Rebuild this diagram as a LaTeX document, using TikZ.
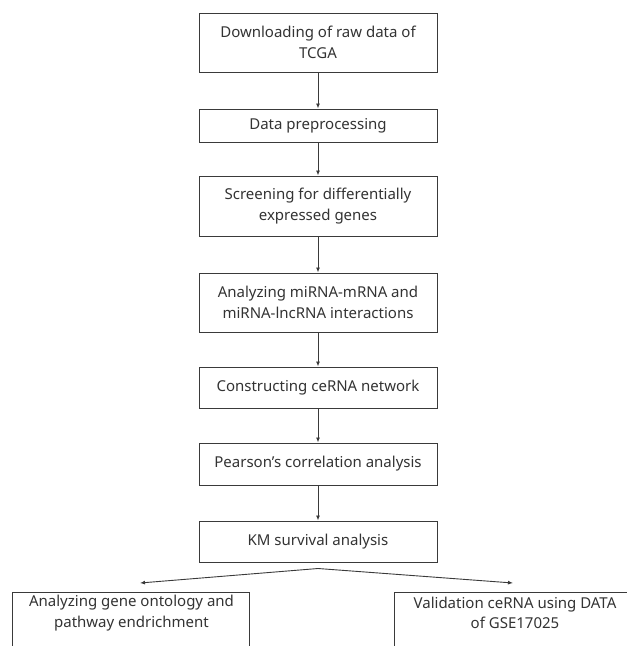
\documentclass[tikz,border=0pt]{standalone}
\usepackage{fontspec}
\setmainfont{Noto Sans}
\usetikzlibrary{arrows.meta}
\definecolor{linec}{HTML}{3A3A3A}
\definecolor{textc}{HTML}{333333}
\tikzset{
  stepbox/.style={draw=linec, line width=1pt, minimum width=238pt, inner sep=0pt,
    align=center, text=textc, font=\fontsize{15}{21}\selectfont},
  plainbox/.style={draw=linec, line width=1pt, minimum width=237pt, minimum height=70pt, inner sep=0pt},
  plaintext/.style={align=center, text=textc, inner sep=0pt, font=\fontsize{15}{20.5}\selectfont},
  arr/.style={draw=linec, line width=0.9pt, -{Latex[length=5pt,width=4pt]}}
}
\begin{document}
\begin{tikzpicture}[x=1pt,y=-1pt]
\useasboundingbox (0,0) rectangle (627,646);
\clip (0,0) rectangle (627,646);
\node[stepbox, minimum height=59pt] (n1) at (318,42.5) {Downloading of raw data of\\TCGA};
\node[stepbox, minimum height=33pt] (n2) at (318,125.5) {Data preprocessing};
\node[stepbox, minimum height=60pt] (n3) at (318,206) {Screening for differentially\\expressed genes};
\node[stepbox, minimum height=59pt] (n4) at (318,302.5) {Analyzing miRNA-mRNA and\\miRNA-lncRNA interactions};
\node[stepbox, minimum height=41pt] (n5) at (318,387.5) {Constructing ceRNA network};
\node[stepbox, minimum height=42pt] (n6) at (318,464) {Pearson's correlation analysis};
\node[stepbox, minimum height=41pt] (n7) at (318,541.5) {KM survival analysis};
\node[plainbox, anchor=north] (gobox) at (130.5,592) {};
\node[plaintext] (gotext) at (131.5,613) {Analyzing gene ontology and\\pathway endrichment};
\node[plainbox, anchor=north] (valbox) at (512.5,592) {};
\node[plaintext] (valtext) at (515,613) {Validation ceRNA using DATA\\of GSE17025};
\draw[arr] (n1) -- (n2);
\draw[arr] (n2) -- (n3);
\draw[arr] (n3) -- (n4);
\draw[arr] (n4) -- (n5);
\draw[arr] (n5) -- (n6);
\draw[arr] (n6) -- (n7);
\coordinate (split) at ([yshift=-6pt]n7.south);
\coordinate (lt) at (140,583);
\coordinate (rt) at (513,583);
\draw[arr] (split) -- (lt);
\draw[arr] (split) -- (rt);
\end{tikzpicture}
\end{document}
